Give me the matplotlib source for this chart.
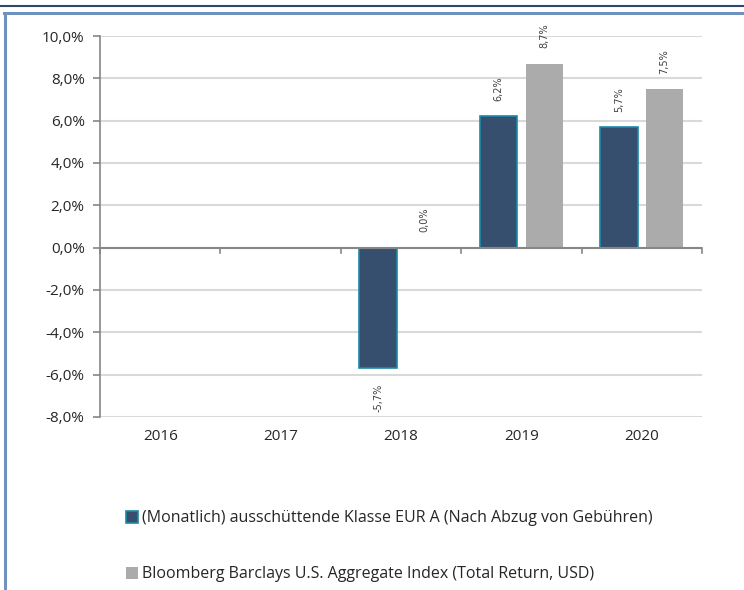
import matplotlib
matplotlib.use("Agg")
import matplotlib.pyplot as plt
from matplotlib.lines import Line2D
from matplotlib.patches import Patch
import matplotlib.transforms as mtransforms
import numpy as np

plt.rcParams['font.family'] = ['Open Sans', 'DejaVu Sans']

years = ["2016", "2017", "2018", "2019", "2020"]
fund = [np.nan, np.nan, -5.7, 6.2, 5.7]
index = [np.nan, np.nan, 0.0, 8.7, 7.5]
fund_label = "(Monatlich) ausschüttende Klasse EUR A (Nach Abzug von Gebühren)"
index_label = "Bloomberg Barclays U.S. Aggregate Index (Total Return, USD)"
yticks = [-8, -6, -4, -2, 0, 2, 4, 6, 8, 10]

W, H = 744, 590
fig = plt.figure(figsize=(W / 100, H / 100), dpi=100)
ax = fig.add_axes([100 / W, 1 - 417 / H, 602 / W, 381 / H])

x = np.arange(len(years))
bw = 0.31
off = 0.19
c_fund = "#374f6e"
c_edge = "#1b8aa6"
c_idx = "#ababab"

ax.bar(x - off, fund, bw, color=c_fund, edgecolor=c_edge, linewidth=1.2, zorder=3)
ax.bar(x + off, index, bw, color=c_idx, edgecolor="none", zorder=3)

def fmt(v):
    return f"{v:.1f}%".replace(".", ",")

for xs, vals in ((x - off, fund), (x + off, index)):
    for xi, v in zip(xs, vals):
        if np.isnan(v):
            continue
        if v < 0:
            ax.annotate(fmt(v), (xi, v), xytext=(0, -11), textcoords="offset points",
                        rotation=90, ha="center", va="top", fontsize=7, color="#404040",
                        family=['DejaVu Sans'])
        else:
            ax.annotate(fmt(v), (xi, v), xytext=(0, 11), textcoords="offset points",
                        rotation=90, ha="center", va="bottom", fontsize=7, color="#404040",
                        family=['DejaVu Sans'])

ax.set_xlim(-0.5, len(years) - 0.5)
ax.set_ylim(-8, 10)
ax.set_yticks(yticks)
ax.set_yticklabels([fmt(v) for v in yticks], fontsize=11, color="#262626")
for v in yticks:
    if v != 0:
        ax.axhline(v, color="#d9d9d9", lw=1.5, zorder=1)
ax.axhline(0, color="#868686", lw=1.5, zorder=4)

for s in ("top", "right", "bottom"):
    ax.spines[s].set_visible(False)
ax.spines["left"].set_color("#868686")
ax.spines["left"].set_linewidth(1.2)
ax.tick_params(axis="y", length=5, width=1.2, color="#868686", pad=6)

# category boundary ticks on the zero line
ax.set_xticks([])
for b in np.arange(-0.5, len(years), 1.0):
    ax.plot([b, b], [0, -0.25], color="#868686", lw=1.2, clip_on=False, zorder=4)
ytrans = ax.transData + mtransforms.ScaledTranslation(0, -8.6 / 72, fig.dpi_scale_trans)
for xi, yr in zip(x, years):
    ax.text(xi, -8, yr, transform=ytrans, ha="center", va="top", fontsize=11,
            color="#262626")

handles = [Patch(facecolor=c_fund, edgecolor=c_edge, linewidth=1.2),
           Patch(facecolor=c_idx, edgecolor="none")]
fig.legend(handles, [fund_label, index_label], loc="upper left",
           bbox_to_anchor=(112 / W, 1 - 496 / H), frameon=False, fontsize=11.5,
           labelspacing=2.5, handlelength=0.75, handleheight=0.75, handletextpad=0.25,
           labelcolor="#262626")

# frame decorations
fig.add_artist(Line2D([0, 1], [1 - 5.5 / H, 1 - 5.5 / H], color="#2e4a6b", lw=1.5))
fig.add_artist(Line2D([5 / W, 5 / W], [0, 1 - 13 / H], color="#6f92bf", lw=2.2))
fig.add_artist(Line2D([4 / W, 1], [1 - 13 / H, 1 - 13 / H], color="#6f92bf", lw=2.2))

fig.savefig("out.png", dpi=100)
